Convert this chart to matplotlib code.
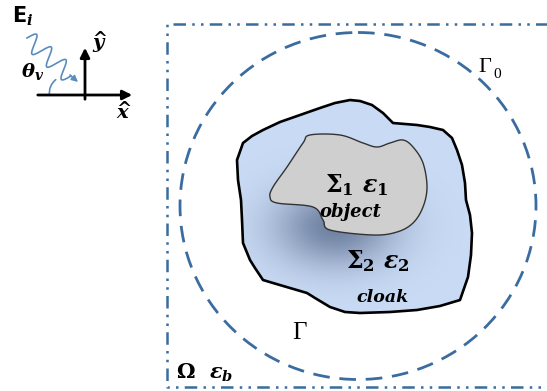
import numpy as np
import matplotlib.pyplot as plt
from matplotlib.patches import Polygon, Ellipse, FancyArrowPatch

plt.rcParams['mathtext.fontset'] = 'custom'
plt.rcParams['mathtext.rm'] = 'DejaVu Serif:bold'
plt.rcParams['mathtext.it'] = 'DejaVu Serif:italic:bold'
plt.rcParams['mathtext.bf'] = 'DejaVu Serif:bold'
plt.rcParams['mathtext.sf'] = 'DejaVu Sans:bold'

W, H = 547, 391
BLUE = '#3b6c9f'
WAVE = '#5b8cc0'

# outline of the cloak region (pixel coords, y down)
cloak_x = [350, 360, 372, 383, 393, 405, 417, 430, 443, 452, 457, 462, 465, 466,
           470, 472, 471, 468, 460, 440, 417, 390, 360, 345, 330, 315, 307, 290,
           273, 263, 255, 250, 243, 242, 241, 238, 237, 243, 252, 263, 280, 300,
           320, 335]
cloak_y = [100, 101, 105, 113, 123, 124, 125, 127, 130, 138, 150, 165, 183, 200,
           215, 233, 255, 277, 300, 306, 310, 312, 313, 312, 307, 298, 293, 288,
           283, 280, 268, 260, 243, 220, 200, 180, 160, 143, 136, 130, 122, 115,
           108, 103]

# outline of the object
obj_x = [310, 340, 363, 377, 390, 403, 413, 423, 427, 423, 413, 397, 373, 330,
         323, 313, 277, 270, 273, 287, 303]
obj_y = [135, 135, 143, 147, 143, 140, 147, 163, 187, 207, 223, 232, 235, 230,
         220, 207, 203, 197, 187, 167, 143]


def smooth_closed(xs, ys, n=12):
    # Catmull-Rom pass to round off a closed outline
    p = np.column_stack([xs, ys]).astype(float)
    m = len(p)
    out = []
    t = np.linspace(0, 1, n, endpoint=False)[:, None]
    for i in range(m):
        p0, p1, p2, p3 = p[i - 1], p[i], p[(i + 1) % m], p[(i + 2) % m]
        seg = 0.5 * ((2 * p1) + (-p0 + p2) * t + (2 * p0 - 5 * p1 + 4 * p2 - p3) * t ** 2
                     + (-p0 + 3 * p1 - 3 * p2 + p3) * t ** 3)
        out.append(seg)
    return np.vstack(out)


fig = plt.figure(figsize=(W / 100, H / 100), dpi=100)
ax = fig.add_axes([0, 0, 1, 1])
ax.set_xlim(0, W)
ax.set_ylim(H, 0)
ax.axis('off')

# cloak with a soft shadow under the object
cloak_pts = np.column_stack([cloak_x, cloak_y])
gx, gy = np.meshgrid(np.arange(230, 480), np.arange(95, 320))
d = np.exp(-(((gx - 335) / 60.0) ** 2 + ((gy - 226) / 40.0) ** 2))
base = np.array([0.79, 0.86, 0.96])
dark = np.array([0.38, 0.45, 0.58])
img = base[None, None, :] * (1 - d[..., None] * 0.85) + dark[None, None, :] * d[..., None] * 0.85
im = ax.imshow(img, extent=(230, 480, 320, 95), zorder=1, interpolation='bilinear')
clip = Polygon(cloak_pts, closed=True, transform=ax.transData)
im.set_clip_path(clip)
ax.add_patch(Polygon(cloak_pts, closed=True, fill=False, ec='black', lw=1.9,
                     joinstyle='round', zorder=3))

obj_pts = smooth_closed(obj_x, obj_y)
ax.add_patch(Polygon(obj_pts, closed=True, fc='#cfcfcf', ec='#333333', lw=1.0, zorder=4))

# outer boundary circle and domain box
ax.add_patch(Ellipse((358, 206), 356, 347, fill=False, ec=BLUE, lw=2.0,
                     ls=(0, (6, 3.5)), zorder=2))
ax.plot([W + 5, 167, 167, W + 5], [24, 24, 387, 387], color=BLUE, lw=1.8,
        ls=(0, (5, 2.5, 1, 2.5, 1, 2.5)), zorder=2, clip_on=False)

ax.text(357, 185, r'$\Sigma_1\ \varepsilon_1$', fontsize=17, ha='center', va='center', zorder=5)
ax.text(350, 212, 'object', fontsize=13, family='DejaVu Serif', style='italic',
        weight='bold', ha='center', va='center', zorder=5)
ax.text(378, 261, r'$\Sigma_2\ \varepsilon_2$', fontsize=17, ha='center', va='center', zorder=5)
ax.text(382, 297, 'cloak', fontsize=12.5, family='DejaVu Serif', style='italic',
        weight='bold', ha='center', va='center', zorder=5)

ax.text(299, 333, '\u0393', fontsize=18, family='Liberation Serif', ha='center', va='center')
ax.text(485, 67, '\u0393', fontsize=16, family='Liberation Serif', ha='center', va='center')
ax.text(497, 75, '0', fontsize=11, family='Liberation Serif', ha='center', va='center')
ax.text(176, 373, r'$\Omega\ \ \varepsilon_b$', fontsize=15, ha='left', va='center')

# incident wave and axes in the corner
ax.annotate('', xy=(135, 95), xytext=(35, 95),
            arrowprops=dict(arrowstyle='-|>', color='black', lw=2, mutation_scale=14))
ax.annotate('', xy=(85, 45), xytext=(85, 102),
            arrowprops=dict(arrowstyle='-|>', color='black', lw=2, mutation_scale=14))
ax.text(100, 42, r'$\widehat{y}$', fontsize=14, ha='center', va='center')
ax.text(124, 112, r'$\widehat{x}$', fontsize=14, ha='center', va='center')
ax.text(12, 16, r'$\mathsf{E}_{i}$', fontsize=15, ha='left', va='center')
ax.text(33, 71, r'$\theta_v$', fontsize=14, ha='center', va='center')

s = np.linspace(0, 1, 300)
x0, y0, x1, y1 = 27, 38, 71, 76
dx, dy = x1 - x0, y1 - y0
L = np.hypot(dx, dy)
nx, ny = -dy / L, dx / L
wave = -9 * np.sin(2 * np.pi * 3.0 * s)
ax.plot(x0 + dx * s + nx * wave, y0 + dy * s + ny * wave, color=WAVE, lw=1.2)
ax.annotate('', xy=(78, 82), xytext=(70, 75),
            arrowprops=dict(arrowstyle='-|>', color=WAVE, lw=1.2, mutation_scale=9,
                            shrinkA=0, shrinkB=0))
ax.add_patch(FancyArrowPatch((50, 98), (58, 78), connectionstyle='arc3,rad=-0.35',
                             arrowstyle='-', color=WAVE, lw=1.2))

fig.savefig('out.png', dpi=100)
